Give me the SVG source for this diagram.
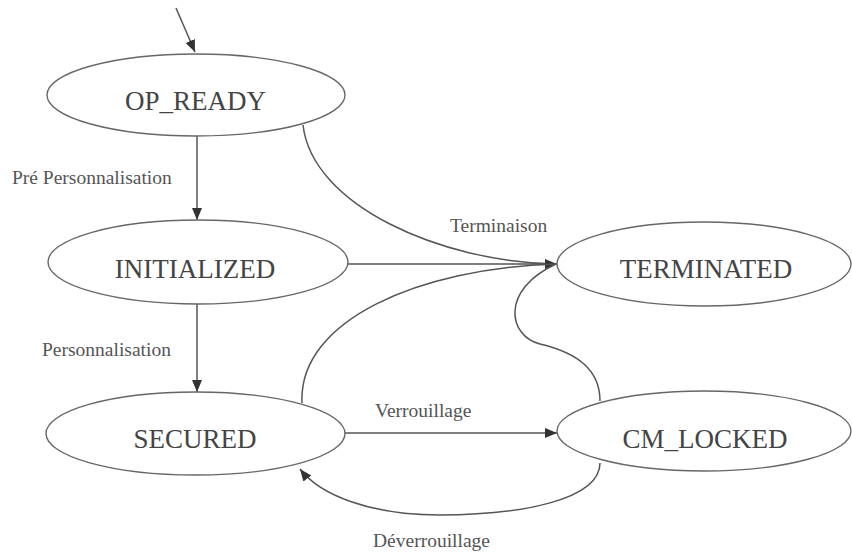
<svg xmlns="http://www.w3.org/2000/svg" width="852" height="553" viewBox="0 0 852 553">
  <style>
    .shape { fill: none; stroke: #666; stroke-width: 1.4; }
    .edge { fill: none; stroke: #555; stroke-width: 1.5; }
  </style>
  <defs>
    <marker id="arrow" markerUnits="userSpaceOnUse" markerWidth="14" markerHeight="12" refX="12" refY="5" orient="auto">
      <path d="M0,0 L12,5 L0,10 Z" fill="#333"/>
    </marker>
  </defs>
  <rect width="852" height="553" fill="#fff"/>

  <g id="edges">
    <!-- initial transition -->
    <path class="edge" d="M176,8 L195,52" marker-end="url(#arrow)"/>
    <!-- OP_READY -> INITIALIZED -->
    <path class="edge" d="M197,136 L197,220" marker-end="url(#arrow)"/>
    <!-- INITIALIZED -> SECURED -->
    <path class="edge" d="M197,304 L197,392" marker-end="url(#arrow)"/>
    <!-- OP_READY -> TERMINATED -->
    <path class="edge" d="M303,125 C312,205 440,262 556,264"/>
    <!-- INITIALIZED -> TERMINATED -->
    <path class="edge" d="M348,264 L557,264" marker-end="url(#arrow)"/>
    <!-- SECURED -> TERMINATED -->
    <path class="edge" d="M302,403 C298,320 420,268 556,264"/>
    <!-- CM_LOCKED -> TERMINATED -->
    <path class="edge" d="M600,401 C600,370 578,353 540,344 C508,336 500,290 556,264"/>
    <!-- SECURED -> CM_LOCKED -->
    <path class="edge" d="M345,433 L557,433" marker-end="url(#arrow)"/>
    <!-- CM_LOCKED -> SECURED -->
    <path class="edge" d="M600,463 C600,500 520,515 440,515 C370,515 320,495 300,469" marker-end="url(#arrow)"/>
  </g>

  <g id="edge-labels" font-family="Liberation Serif, Times New Roman, serif" font-size="19.5" fill="#555">
    <text x="12" y="184">Pré Personnalisation</text>
    <text x="42" y="356">Personnalisation</text>
    <text x="450" y="232">Terminaison</text>
    <text x="375" y="417">Verrouillage</text>
    <text x="373" y="547">Déverrouillage</text>
  </g>

  <g id="OP_READY">
    <ellipse class="shape" cx="196" cy="95" rx="149" ry="41"/>
    <text x="195.5" y="110" font-family="Liberation Serif, serif" font-size="27" fill="#444" text-anchor="middle">OP_READY</text>
  </g>
  <g id="INITIALIZED">
    <ellipse class="shape" cx="198" cy="262" rx="150" ry="42"/>
    <text x="195" y="278" font-family="Liberation Serif, serif" font-size="27" fill="#444" text-anchor="middle">INITIALIZED</text>
  </g>
  <g id="SECURED">
    <ellipse class="shape" cx="195.5" cy="433.5" rx="149.5" ry="41.5"/>
    <text x="195" y="448" font-family="Liberation Serif, serif" font-size="27" fill="#444" text-anchor="middle">SECURED</text>
  </g>
  <g id="TERMINATED">
    <ellipse class="shape" cx="704" cy="264" rx="147" ry="42"/>
    <text x="706" y="278" font-family="Liberation Serif, serif" font-size="27" fill="#444" text-anchor="middle">TERMINATED</text>
  </g>
  <g id="CM_LOCKED">
    <ellipse class="shape" cx="704" cy="431" rx="147" ry="40"/>
    <text x="705" y="448" font-family="Liberation Serif, serif" font-size="27" fill="#444" text-anchor="middle">CM_LOCKED</text>
  </g>
</svg>
